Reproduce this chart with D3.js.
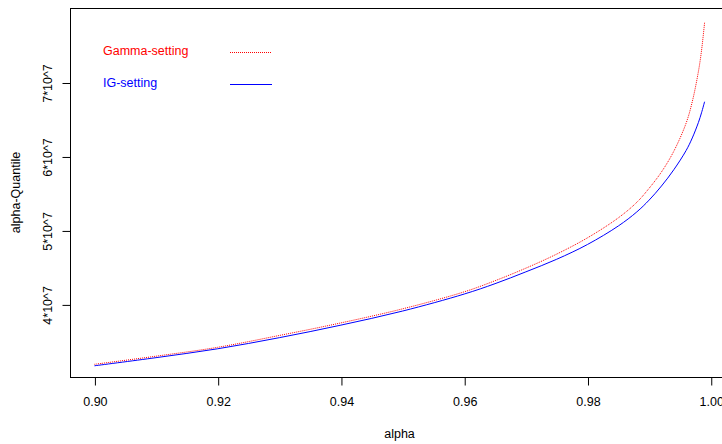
<!DOCTYPE html>
<html>

<head>
    <script src="https://d3js.org/d3.v7.min.js"></script>
    <style>
        body { margin: 0; background: #fff; }
        text { font-family: "Liberation Sans", Arial, sans-serif; }
    </style>
    <script>
        const w = 722
        const h = 444
        // alpha levels and the two quantile curves
        const alpha = [0.900, 0.910, 0.920, 0.930, 0.940, 0.950, 0.960, 0.965, 0.970, 0.975,
            0.980, 0.985, 0.988, 0.990, 0.992, 0.994, 0.996, 0.997, 0.998, 0.9985, 0.999]
        const gammaQ = [3.19e7, 3.30e7, 3.42e7, 3.58e7, 3.75e7, 3.94e7, 4.17e7, 4.32e7, 4.49e7, 4.68e7,
            4.90e7, 5.17e7, 5.38e7, 5.57e7, 5.79e7, 6.07e7, 6.45e7, 6.74e7, 7.15e7, 7.43e7, 7.81e7]
        const igQ = [3.17e7, 3.28e7, 3.40e7, 3.55e7, 3.72e7, 3.91e7, 4.14e7, 4.28e7, 4.44e7, 4.61e7,
            4.81e7, 5.06e7, 5.25e7, 5.41e7, 5.60e7, 5.82e7, 6.08e7, 6.25e7, 6.46e7, 6.59e7, 6.74e7]
        const xTicks = [0.90, 0.92, 0.94, 0.96, 0.98, 1.00]
        const yTicks = [4e7, 5e7, 6e7, 7e7]
        const yTickLabels = ["4*10^7", "5*10^7", "6*10^7", "7*10^7"]
        const series = [
            { name: "Gamma-setting", values: gammaQ, color: "#ff0000", dash: "1,1" },
            { name: "IG-setting", values: igQ, color: "#0000ff", dash: null }
        ]

        function doSVG() {
            const svg = d3.select("body").append("svg")
                .attr("width", w)
                .attr("height", h)

            // plot region (right edge falls outside the window)
            const left = 70, right = 729, top = 8, bottom = 377

            const x = d3.scaleLinear().domain([0.89604, 1.00296]).range([left, right])
            const y = d3.scaleLinear().domain([3.0185e7, 8.007e7]).range([bottom, top])

            svg.append("rect")
                .attr("x", left + 0.5).attr("y", top + 0.5)
                .attr("width", right - left).attr("height", bottom - top)
                .attr("fill", "none").attr("stroke", "#000").attr("stroke-width", 1)

            // x axis
            const xAxis = svg.append("g")
                .attr("transform", `translate(0.5, ${bottom + 0.5})`)
                .call(d3.axisBottom(x).tickValues(xTicks).tickFormat(d3.format(".2f")).tickSize(8).tickPadding(12))
            xAxis.select(".domain").attr("d", `M${x(0.90)},0H${x(1.00)}`)
            xAxis.selectAll("text").attr("font-size", "12.5px").attr("font-family", "Liberation Sans, Arial, sans-serif").attr("fill", "#000")

            // y axis with rotated labels
            const yAxis = svg.append("g")
                .attr("transform", `translate(${left + 0.5}, 0.5)`)
                .call(d3.axisLeft(y).tickValues(yTicks).tickFormat((d, i) => yTickLabels[i]).tickSize(8))
            yAxis.select(".domain").attr("d", `M0,${y(4e7)}V${y(7e7)}`)
            yAxis.selectAll("text")
                .attr("font-size", "12.5px").attr("font-family", "Liberation Sans, Arial, sans-serif").attr("fill", "#000")
                .attr("x", null).attr("dy", null)
                .attr("text-anchor", "middle")
                .attr("transform", "translate(-22,0) rotate(-90)")
                .attr("dominant-baseline", "middle")

            svg.append("text")
                .attr("x", (left + right) / 2).attr("y", 438)
                .attr("text-anchor", "middle").attr("font-size", "12.5px")
                .text("alpha")
            svg.append("text")
                .attr("transform", `translate(20, ${(top + bottom) / 2}) rotate(-90)`)
                .attr("text-anchor", "middle").attr("font-size", "12.5px")
                .text("alpha-Quantile")

            const line = d3.line()
                .x(d => x(d[0]))
                .y(d => y(d[1]))
                .curve(d3.curveCatmullRom.alpha(0.5))

            series.forEach(s => {
                svg.append("path")
                    .datum(alpha.map((a, i) => [a, s.values[i]]))
                    .attr("d", line)
                    .attr("fill", "none")
                    .attr("stroke", s.color)
                    .attr("stroke-width", 1)
                    .attr("stroke-dasharray", s.dash)
            })

            // legend
            series.forEach((s, i) => {
                const ly = 52 + i * 32
                svg.append("text")
                    .attr("x", 103).attr("y", ly)
                    .attr("dominant-baseline", "middle")
                    .attr("font-size", "12.5px")
                    .attr("fill", s.color)
                    .text(s.name)
                svg.append("line")
                    .attr("x1", 230).attr("x2", 272)
                    .attr("y1", ly + 0.5).attr("y2", ly + 0.5)
                    .attr("stroke", s.color)
                    .attr("stroke-dasharray", s.dash)
            })
        }
    </script>
</head>

<body onload="doSVG()">
</body>

</html>
